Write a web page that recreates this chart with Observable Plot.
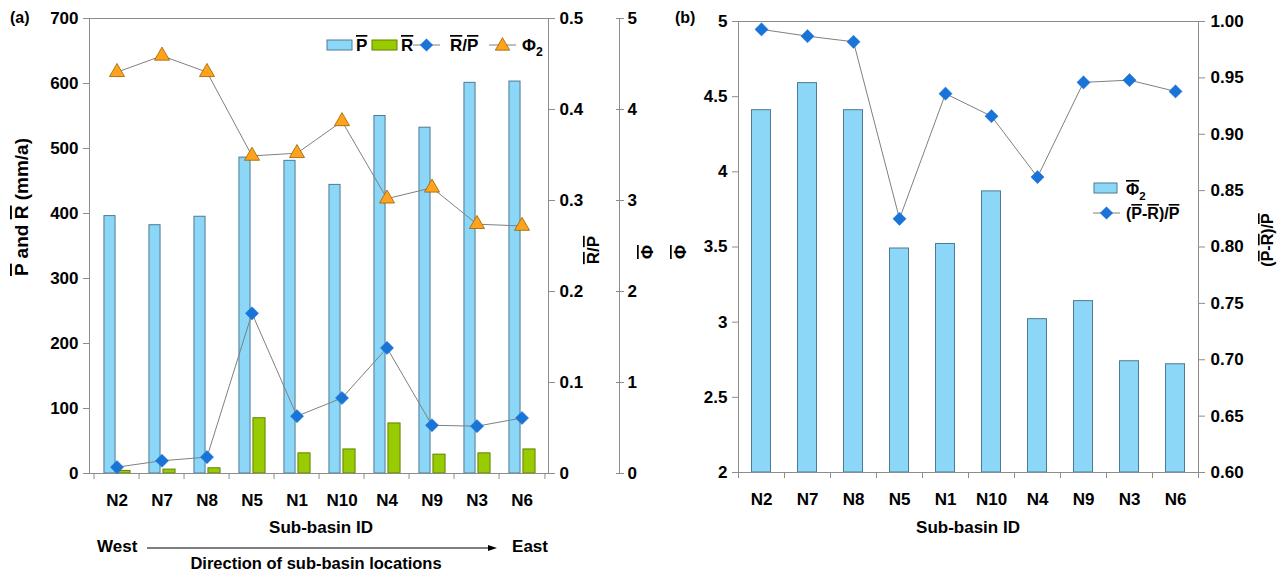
<!DOCTYPE html>
<html><head><meta charset="utf-8">
<script src="https://cdn.jsdelivr.net/npm/d3@7"></script>
<script src="https://cdn.jsdelivr.net/npm/@observablehq/plot@0.6"></script>
<style>
html,body{margin:0;padding:0;background:#fff;}
#wrap{position:relative;width:1284px;height:572px;overflow:hidden;background:#fff;}
#wrap svg{position:absolute;top:0;}
</style></head><body><div id="wrap"></div>
<script>
// ---------- data ----------
const subBasins = ["N2","N7","N8","N5","N1","N10","N4","N9","N3","N6"];
const pMean     = [396, 382, 395, 486, 481, 444, 550, 532, 601, 603];      // P̄ (mm/a)
const rMean     = [4, 6, 8, 85, 31, 37, 77, 29, 31, 37];                   // R̄ (mm/a)
const rpRatio   = [0.007, 0.014, 0.018, 0.176, 0.063, 0.083, 0.138, 0.053, 0.052, 0.061]; // R̄/P̄
const phi2      = [4.41, 4.59, 4.41, 3.49, 3.52, 3.87, 3.02, 3.14, 2.74, 2.72];           // Φ̄2
const evapRatio = [0.993, 0.987, 0.982, 0.825, 0.936, 0.916, 0.862, 0.946, 0.948, 0.938]; // (P̄-R̄)/P̄
const leftTicksA = [0, 100, 200, 300, 400, 500, 600, 700];
const rpTicks    = [0, 0.1, 0.2, 0.3, 0.4, 0.5];
const phiTicksA  = [0, 1, 2, 3, 4, 5];
const phiTicksB  = [2, 2.5, 3, 3.5, 4, 4.5, 5];
const evapTicks  = [0.60, 0.65, 0.70, 0.75, 0.80, 0.85, 0.90, 0.95, 1.00];

// ---------- style ----------
const FONT = "'Liberation Sans', Arial, Helvetica, sans-serif";
const C_P = "#8cd7f7", C_PS = "#4f7a93";
const C_R = "#99cc00", C_RS = "#5f8000";
const C_DIA = "#1a74d8";
const C_TRI = "#ffa21c", C_TRIS = "#9a6200";
const C_LINE = "#808080", C_AX = "#8c8c8c";

// secondary axis mappings onto the primary y scale
const rpToY = v => v * 700 / 0.5;
const phiToY = v => v * 700 / 5;
const evToY = v => 2 + (v - 0.6) * 3 / 0.4;

const rowsA = subBasins.map((id, i) => ({id, p: pMean[i], r: rMean[i], rp: rpRatio[i], phi: phi2[i]}));
const rowsB = subBasins.map((id, i) => ({id, phi: phi2[i], ev: evapRatio[i]}));

const diamond = {draw(ctx, size) { const r = Math.sqrt(size) * 0.62; ctx.moveTo(0, -r); ctx.lineTo(r, 0); ctx.lineTo(0, r); ctx.lineTo(-r, 0); ctx.closePath(); }};

// ---------- panel (a) ----------
const A = {w: 662, h: 572, ml: 89, mr: 114, mt: 18, mb: 99};
const stepA = (A.w - A.ml - A.mr) / subBasins.length;
const plotA = Plot.plot({
  width: A.w, height: A.h,
  marginLeft: A.ml, marginRight: A.mr, marginTop: A.mt, marginBottom: A.mb,
  style: {fontFamily: FONT, fontSize: "17px", fontWeight: "bold", color: "#000", background: "transparent", overflow: "visible"},
  x: {type: "band", domain: subBasins, padding: 0},
  y: {domain: [0, 700]},
  marks: [
    Plot.barY(rowsA, {x: "id", y: "p", fill: C_P, stroke: C_PS, strokeWidth: 1, insetLeft: stepA/2 - 13, insetRight: stepA/2 + 1}),
    Plot.barY(rowsA, {x: "id", y: "r", fill: C_R, stroke: C_RS, strokeWidth: 1, insetLeft: stepA/2 + 1, insetRight: stepA/2 - 14}),
    Plot.frame({stroke: C_AX}),
    Plot.axisY(leftTicksA, {anchor: "left", tickSize: 6, tickPadding: 5, stroke: C_AX, label: null}),
    Plot.axisY(rpTicks.map(rpToY), {anchor: "right", tickSize: 6, tickPadding: 5, stroke: C_AX, label: null,
      tickFormat: d => { const v = d * 0.5 / 700; return v === 0 ? "0" : v.toFixed(1); }}),
    Plot.frame({anchor: "right", dx: 71, stroke: C_AX}),
    Plot.axisY(phiTicksA.map(phiToY), {anchor: "right", dx: 67, tickSize: 8, tickPadding: 0, stroke: C_AX, fill: "none", label: null, tickFormat: () => ""}),
    Plot.axisY(phiTicksA.map(phiToY), {anchor: "right", dx: 71, tickSize: 4, tickPadding: 4, stroke: C_AX, label: null,
      tickFormat: d => String(Math.round(d * 5 / 700))}),
    Plot.axisX(subBasins, {anchor: "bottom", tickSize: 6, dx: -stepA/2, stroke: C_AX, fill: "none", tickFormat: () => "", label: null}),
    Plot.axisX([subBasins[subBasins.length - 1]], {anchor: "bottom", tickSize: 6, dx: stepA/2, stroke: C_AX, fill: "none", tickFormat: () => "", label: null}),
    Plot.axisX(subBasins, {anchor: "bottom", tickSize: 0, tickPadding: 20, fontSize: 17, label: null}),
    Plot.line(rowsA, {x: "id", y: d => rpToY(d.rp), stroke: C_LINE, strokeWidth: 1}),
    Plot.line(rowsA, {x: "id", y: d => phiToY(d.phi), stroke: C_LINE, strokeWidth: 1}),
    Plot.dot(rowsA, {x: "id", y: d => rpToY(d.rp), symbol: diamond, r: 6, fill: C_DIA, stroke: C_DIA, strokeWidth: 0.5}),
    Plot.dot(rowsA, {x: "id", y: d => phiToY(d.phi), symbol: "triangle", r: 5.6, fill: C_TRI, stroke: C_TRIS, strokeWidth: 0.8})
  ]
});

// ---------- panel (b) ----------
const B = {x0: 640, w: 644, h: 572, ml: 98, mr: 86, mt: 21, mb: 100};
const stepB = (B.w - B.ml - B.mr) / subBasins.length;
const plotB = Plot.plot({
  width: B.w, height: B.h,
  marginLeft: B.ml, marginRight: B.mr, marginTop: B.mt, marginBottom: B.mb,
  style: {fontFamily: FONT, fontSize: "17px", fontWeight: "bold", color: "#000", background: "transparent", overflow: "visible"},
  x: {type: "band", domain: subBasins, padding: 0},
  y: {domain: [2, 5]},
  marks: [
    Plot.barY(rowsB, {x: "id", y1: () => 2, y2: "phi", fill: C_P, stroke: C_PS, strokeWidth: 1, insetLeft: (stepB - 19)/2, insetRight: (stepB - 19)/2}),
    Plot.frame({stroke: C_AX}),
    Plot.axisY(phiTicksB, {anchor: "left", tickSize: 6, tickPadding: 5, stroke: C_AX, label: null, tickFormat: d => String(d)}),
    Plot.axisY(evapTicks.map(evToY), {anchor: "right", tickSize: 6, tickPadding: 6, stroke: C_AX, label: null,
      tickFormat: d => (0.6 + (d - 2) * 0.4 / 3).toFixed(2)}),
    Plot.axisX(subBasins, {anchor: "bottom", tickSize: 6, dx: -stepB/2, stroke: C_AX, fill: "none", tickFormat: () => "", label: null}),
    Plot.axisX([subBasins[subBasins.length - 1]], {anchor: "bottom", tickSize: 6, dx: stepB/2, stroke: C_AX, fill: "none", tickFormat: () => "", label: null}),
    Plot.axisX(subBasins, {anchor: "bottom", tickSize: 0, tickPadding: 20, fontSize: 17, label: null}),
    Plot.line(rowsB, {x: "id", y: d => evToY(d.ev), stroke: C_LINE, strokeWidth: 1}),
    Plot.dot(rowsB, {x: "id", y: d => evToY(d.ev), symbol: diamond, r: 6, fill: C_DIA, stroke: C_DIA, strokeWidth: 0.5})
  ]
});

const wrap = document.getElementById("wrap");
plotA.style.left = "0px";
plotB.style.left = B.x0 + "px";
wrap.appendChild(plotA);
wrap.appendChild(plotB);

// ---------- rich text helper (overlines / subscripts) ----------
function rich(g, x, y, parts, {size = 16, anchor = "start", rotate = 0} = {}) {
  const t = g.append("text")
    .attr("transform", `translate(${x},${y}) rotate(${rotate})`)
    .attr("text-anchor", anchor)
    .attr("font-size", size)
    .attr("font-family", FONT)
    .attr("font-weight", "bold")
    .attr("fill", "#000");
  for (const p of parts) {
    const [s, ol, sub] = Array.isArray(p) ? p : [p, false, false];
    const ts = t.append("tspan").text(s);
    if (ol) ts.style("text-decoration", "overline");
    if (sub) ts.attr("font-size", size * 0.72).attr("dy", size * 0.3);
  }
  return t;
}

// ----- panel (a) annotations -----
const ga = d3.select(plotA).append("g");
rich(ga, 10, 23, ["(a)"], {size: 16});
rich(ga, 28, 207, [["P", true], " and ", ["R", true], " (mm/a)"], {size: 19, anchor: "middle", rotate: -90});
rich(ga, 599, 250, [["R", true], "/", ["P", true]], {size: 17, anchor: "middle", rotate: -90});
rich(ga, 653, 252, [["Φ", true]], {size: 17, anchor: "middle", rotate: -90});
rich(ga, 321, 533, ["Sub-basin ID"], {size: 17, anchor: "middle"});
rich(ga, 97, 552, ["West"], {size: 17});
rich(ga, 548, 552, ["East"], {size: 17, anchor: "end"});
rich(ga, 316, 569, ["Direction of sub-basin locations"], {size: 16.5, anchor: "middle"});
ga.append("line").attr("x1", 147).attr("x2", 490).attr("y1", 548).attr("y2", 548).attr("stroke", "#000").attr("stroke-width", 1.2);
ga.append("path").attr("d", "M497,548L488,545L488,551Z").attr("fill", "#000");

// legend (a)
const la = ga.append("g");
la.append("rect").attr("x", 327).attr("y", 40).attr("width", 25).attr("height", 10).attr("fill", C_P).attr("stroke", C_PS);
rich(la, 356, 51, [["P", true]], {size: 17});
la.append("rect").attr("x", 372).attr("y", 40).attr("width", 25).attr("height", 10).attr("fill", C_R).attr("stroke", C_RS);
rich(la, 401, 51, [["R", true]], {size: 17});
la.append("line").attr("x1", 413).attr("x2", 440).attr("y1", 45).attr("y2", 45).attr("stroke", C_LINE);
la.append("path").attr("d", d3.symbol(diamond, 113)()).attr("transform", "translate(426.5,45)").attr("fill", C_DIA);
rich(la, 450, 51, [["R", true], "/", ["P", true]], {size: 17});
la.append("line").attr("x1", 489).attr("x2", 516).attr("y1", 45).attr("y2", 45).attr("stroke", C_LINE);
la.append("path").attr("d", d3.symbol(d3.symbolTriangle, 90)()).attr("transform", "translate(502.5,46)").attr("fill", C_TRI).attr("stroke", C_TRIS).attr("stroke-width", 0.8);
rich(la, 522, 51, ["Φ", ["2", false, true]], {size: 17});

// ----- panel (b) annotations -----
const gb = d3.select(plotB).append("g");
const bx = v => v - B.x0;
rich(gb, bx(675), 23, ["(b)"], {size: 16});
rich(gb, bx(686), 252, [["Φ", true]], {size: 17, anchor: "middle", rotate: -90});
rich(gb, bx(1273), 240, ["(", ["P", true], "-", ["R", true], ")/", ["P", true]], {size: 16, anchor: "middle", rotate: -90});
rich(gb, bx(968), 533, ["Sub-basin ID"], {size: 17, anchor: "middle"});
// legend (b)
gb.append("rect").attr("x", bx(1094)).attr("y", 183).attr("width", 23).attr("height", 10).attr("fill", C_P).attr("stroke", C_PS);
rich(gb, bx(1126), 195, [["Φ", true], ["2", false, true]], {size: 16});
gb.append("line").attr("x1", bx(1093)).attr("x2", bx(1120)).attr("y1", 213).attr("y2", 213).attr("stroke", C_LINE);
gb.append("path").attr("d", d3.symbol(diamond, 113)()).attr("transform", `translate(${bx(1106.5)},213)`).attr("fill", C_DIA);
rich(gb, bx(1126), 219, ["(", ["P", true], "-", ["R", true], ")/", ["P", true]], {size: 16});
</script></body></html>
